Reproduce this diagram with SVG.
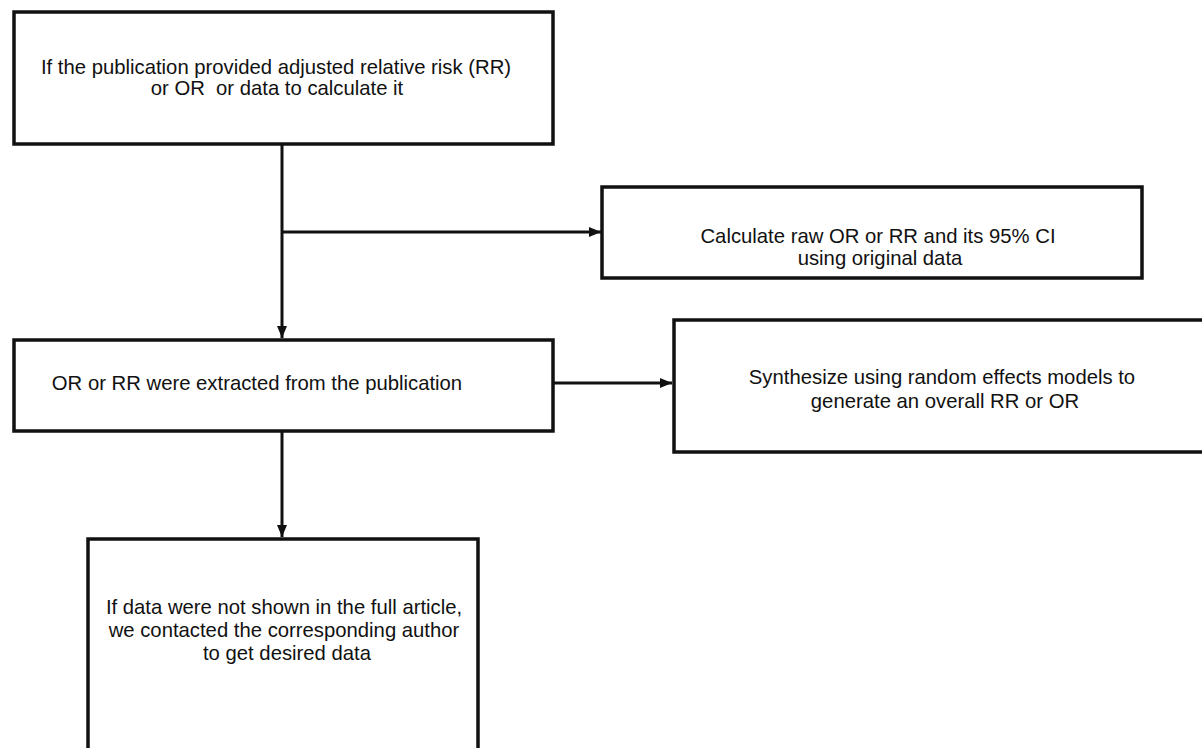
<svg xmlns="http://www.w3.org/2000/svg" width="1202" height="748" viewBox="0 0 1202 748">
<style>
.box{fill:#fff;stroke:#111;stroke-width:3.5}
.lbl{font-family:"Liberation Sans",Arial,sans-serif;font-size:20.3px;fill:#111;text-anchor:middle}
.con{stroke:#111;stroke-width:3;fill:none}
</style>
<defs>
<marker id="ah" viewBox="0 0 12 10" refX="12" refY="5" markerWidth="12" markerHeight="10" markerUnits="userSpaceOnUse" orient="auto">
<path d="M0,0 L12,5 L0,10 z" fill="#111"/>
</marker>
</defs>
<rect width="1202" height="748" fill="#fff"/>
<g id="connectors">
<line class="con" x1="282" y1="145" x2="282" y2="338" marker-end="url(#ah)"/>
<line class="con" x1="282" y1="232" x2="601" y2="232" marker-end="url(#ah)"/>
<line class="con" x1="553" y1="383" x2="672" y2="383" marker-end="url(#ah)"/>
<line class="con" x1="282" y1="431" x2="282" y2="537" marker-end="url(#ah)"/>
</g>
<g id="n1">
<rect class="box" x="14" y="12" width="539" height="132"/>
<text class="lbl" x="276" y="74">If the publication provided adjusted relative risk (RR)</text>
<text class="lbl" x="277" y="95" xml:space="preserve">or OR  or data to calculate it</text>
</g>
<g id="n2">
<rect class="box" x="14" y="340" width="539" height="91"/>
<text class="lbl" x="257" y="390">OR or RR were extracted from the publication</text>
</g>
<g id="n3">
<rect class="box" x="602" y="187" width="540" height="91"/>
<text class="lbl" x="878" y="243">Calculate raw OR or RR and its 95% CI</text>
<text class="lbl" x="880" y="265">using original data</text>
</g>
<g id="n4">
<rect class="box" x="674" y="320" width="540" height="132"/>
<text class="lbl" x="942" y="384">Synthesize using random effects models to</text>
<text class="lbl" x="945" y="408">generate an overall RR or OR</text>
</g>
<g id="n5">
<rect class="box" x="88" y="539" width="390" height="215"/>
<text class="lbl" x="284" y="614">If data were not shown in the full article,</text>
<text class="lbl" x="284" y="637">we contacted the corresponding author</text>
<text class="lbl" x="287" y="660">to get desired data</text>
</g>
</svg>
